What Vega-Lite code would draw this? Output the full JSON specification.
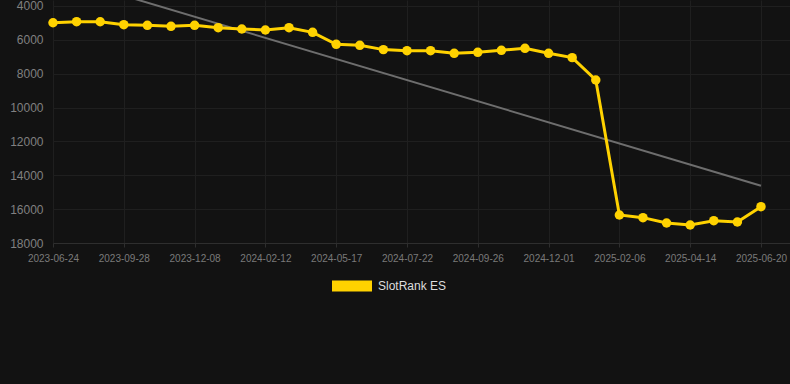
{
  "$schema": "https://vega.github.io/schema/vega-lite/v6.json",
  "autosize": {"type": "none"},
  "width": 737,
  "height": 243,
  "padding": {"left": 53, "top": 0, "right": 0, "bottom": 141},
  "background": "#121212",
  "config": {
    "view": {"stroke": null},
    "font": "Liberation Sans"
  },
  "datasets": {
    "rank": [
      {"date": "2023-06-24", "rank": 4990, "series": "SlotRank ES"},
      {"date": "2023-07-26", "rank": 4927, "series": "SlotRank ES"},
      {"date": "2023-08-27", "rank": 4930, "series": "SlotRank ES"},
      {"date": "2023-09-28", "rank": 5104, "series": "SlotRank ES"},
      {"date": "2023-10-21", "rank": 5142, "series": "SlotRank ES"},
      {"date": "2023-11-14", "rank": 5201, "series": "SlotRank ES"},
      {"date": "2023-12-08", "rank": 5142, "series": "SlotRank ES"},
      {"date": "2024-01-01", "rank": 5280, "series": "SlotRank ES"},
      {"date": "2024-01-20", "rank": 5360, "series": "SlotRank ES"},
      {"date": "2024-02-12", "rank": 5418, "series": "SlotRank ES"},
      {"date": "2024-03-15", "rank": 5280, "series": "SlotRank ES"},
      {"date": "2024-04-16", "rank": 5555, "series": "SlotRank ES"},
      {"date": "2024-05-17", "rank": 6262, "series": "SlotRank ES"},
      {"date": "2024-06-08", "rank": 6321, "series": "SlotRank ES"},
      {"date": "2024-06-30", "rank": 6577, "series": "SlotRank ES"},
      {"date": "2024-07-22", "rank": 6637, "series": "SlotRank ES"},
      {"date": "2024-08-13", "rank": 6637, "series": "SlotRank ES"},
      {"date": "2024-09-04", "rank": 6793, "series": "SlotRank ES"},
      {"date": "2024-09-26", "rank": 6735, "series": "SlotRank ES"},
      {"date": "2024-10-18", "rank": 6617, "series": "SlotRank ES"},
      {"date": "2024-11-09", "rank": 6499, "series": "SlotRank ES"},
      {"date": "2024-12-01", "rank": 6793, "series": "SlotRank ES"},
      {"date": "2024-12-23", "rank": 7050, "series": "SlotRank ES"},
      {"date": "2025-01-14", "rank": 8371, "series": "SlotRank ES"},
      {"date": "2025-02-06", "rank": 16346, "series": "SlotRank ES"},
      {"date": "2025-02-28", "rank": 16503, "series": "SlotRank ES"},
      {"date": "2025-03-22", "rank": 16818, "series": "SlotRank ES"},
      {"date": "2025-04-14", "rank": 16936, "series": "SlotRank ES"},
      {"date": "2025-05-06", "rank": 16680, "series": "SlotRank ES"},
      {"date": "2025-05-28", "rank": 16760, "series": "SlotRank ES"},
      {"date": "2025-06-20", "rank": 15856, "series": "SlotRank ES"}
    ],
    "trend": [
      {"date": "2023-06-24", "rank": 2140},
      {"date": "2025-06-20", "rank": 14615}
    ]
  },
  "encoding": {
    "x": {
      "field": "date",
      "type": "ordinal",
      "sort": null,
      "scale": {
        "type": "point",
        "padding": 0.615,
        "align": 0,
        "domain": ["2023-06-24","2023-07-26","2023-08-27","2023-09-28","2023-10-21","2023-11-14","2023-12-08","2024-01-01","2024-01-20","2024-02-12","2024-03-15","2024-04-16","2024-05-17","2024-06-08","2024-06-30","2024-07-22","2024-08-13","2024-09-04","2024-09-26","2024-10-18","2024-11-09","2024-12-01","2024-12-23","2025-01-14","2025-02-06","2025-02-28","2025-03-22","2025-04-14","2025-05-06","2025-05-28","2025-06-20"]
      },
      "axis": {
        "title": null,
        "values": ["2023-06-24","2023-09-28","2023-12-08","2024-02-12","2024-05-17","2024-07-22","2024-09-26","2024-12-01","2025-02-06","2025-04-14","2025-06-20"],
        "labelAngle": 0,
        "labelColor": "#7a7a7a",
        "labelFontSize": 10,
        "labelPadding": 6,
        "grid": true,
        "gridColor": "#1f1f1f",
        "domainColor": "#2e2e2e",
        "tickColor": "#2e2e2e",
        "tickSize": 4
      }
    },
    "y": {
      "field": "rank",
      "type": "quantitative",
      "scale": {"domain": [18000, 3646], "nice": false, "zero": false},
      "axis": {
        "title": null,
        "values": [4000, 6000, 8000, 10000, 12000, 14000, 16000, 18000],
        "format": "d",
        "labelColor": "#808080",
        "labelFontSize": 12,
        "labelPadding": 10,
        "ticks": false,
        "domain": false,
        "grid": true,
        "gridColor": "#1f1f1f"
      }
    }
  },
  "layer": [
    {
      "data": {"name": "trend"},
      "mark": {"type": "line", "color": "#6e6e6e", "strokeWidth": 2, "clip": true}
    },
    {
      "data": {"name": "rank"},
      "mark": {"type": "line", "strokeWidth": 3, "point": {"size": 90, "filled": true, "opacity": 1}},
      "encoding": {
        "color": {
          "field": "series",
          "type": "nominal",
          "scale": {"domain": ["SlotRank ES"], "range": ["#FFD200"]},
          "legend": {
            "title": null,
            "orient": "none",
            "legendX": 279,
            "legendY": 266,
            "symbolType": "M-1,-0.275L1,-0.275L1,0.275L-1,0.275Z",
            "symbolSize": 1600,
            "symbolStrokeWidth": 0,
            "labelColor": "#dddddd",
            "labelFontSize": 12,
            "labelOffset": 6
          }
        }
      }
    }
  ]
}
